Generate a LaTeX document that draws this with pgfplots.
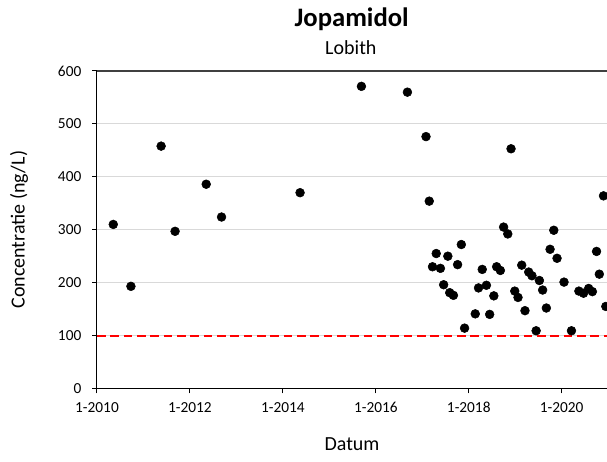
\documentclass[border=0pt]{standalone}
\usepackage{pgfplots}
\pgfplotsset{compat=1.18}
\usepackage{fontspec}
\setmainfont{Carlito}
\definecolor{gridgray}{HTML}{D9D9D9}
\definecolor{topgray}{HTML}{404040}
\begin{document}
\begin{tikzpicture}
\begin{axis}[
  name=ax,
  scale only axis,
  width=382.5pt, height=238.1pt,
  xmin=2010, xmax=2020.975,
  ymin=0, ymax=600,
  axis line style={draw=none},
  xtick pos=left, ytick pos=left,
  tick align=outside,
  major tick length=3.75pt,
  xtick={2010,2012,2014,2016,2018,2020},
  xticklabels={1-2010,1-2012,1-2014,1-2016,1-2018,1-2020},
  ytick={0,100,200,300,400,500,600},
  ymajorgrids,
  grid style={draw=gridgray, line width=0.75pt},
  tick style={black, line width=0.75pt},
  ticklabel style={font=\fontsize{11.5}{13}\selectfont},
  yticklabel style={xshift=-4.5pt},
  xticklabel style={yshift=-3pt},
  /pgf/number format/assume math mode=true,
  clip marker paths=true,
]
\addplot[red, line width=1.5pt, dash pattern=on 6.5pt off 3.5pt] coordinates {(2010,100) (2020.975,100)};
\addplot[only marks, mark=*, mark size=3.3pt, black] table {
x y
2010.35 310
2010.73 193
2011.38 458
2011.68 297
2012.35 386
2012.68 324
2014.37 370
2015.69 571
2016.68 560
2017.08 476
2017.15 354
2017.22 230
2017.30 255
2017.39 227
2017.46 196
2017.55 250
2017.59 181
2017.67 176
2017.76 234
2017.84 272
2017.91 114
2018.14 141
2018.21 190
2018.29 225
2018.38 195
2018.45 140
2018.54 175
2018.60 230
2018.68 223
2018.75 305
2018.84 292
2018.91 453
2018.99 184
2019.06 172
2019.14 233
2019.21 147
2019.29 220
2019.36 213
2019.45 109
2019.52 204
2019.59 186
2019.67 152
2019.75 263
2019.83 299
2019.90 246
2020.05 201
2020.21 109
2020.37 184
2020.47 180
2020.58 189
2020.66 183
2020.75 259
2020.81 216
2020.90 364
2020.95 155
};
\end{axis}
\draw[line width=0.75pt, black] (ax.north west) -- (ax.south west) -- (ax.south east);
\draw[line width=1.5pt, topgray] (ax.north west) -- (ax.north east);
\node[anchor=base, font=\fontsize{20}{24}\selectfont\bfseries] at ([shift={(191pt,271.35pt)}]ax.south west) {Jopamidol};
\node[anchor=base, font=\fontsize{15}{18}\selectfont] at ([shift={(190.4pt,250.1pt)}]ax.south west) {Lobith};
\node[anchor=base, font=\fontsize{15}{18}\selectfont] at ([shift={(191.25pt,-46.5pt)}]ax.south west) {Datum};
\node[rotate=90, font=\fontsize{15}{18}\selectfont] at ([shift={(-58.5pt,119.06pt)}]ax.south west) {Concentratie (ng/L)};
\pgfresetboundingbox
\path ([shift={(-72.75pt,-55.125pt)}]ax.south west) rectangle ([shift={(0pt,53.25pt)}]ax.north east);
\end{tikzpicture}
\end{document}
